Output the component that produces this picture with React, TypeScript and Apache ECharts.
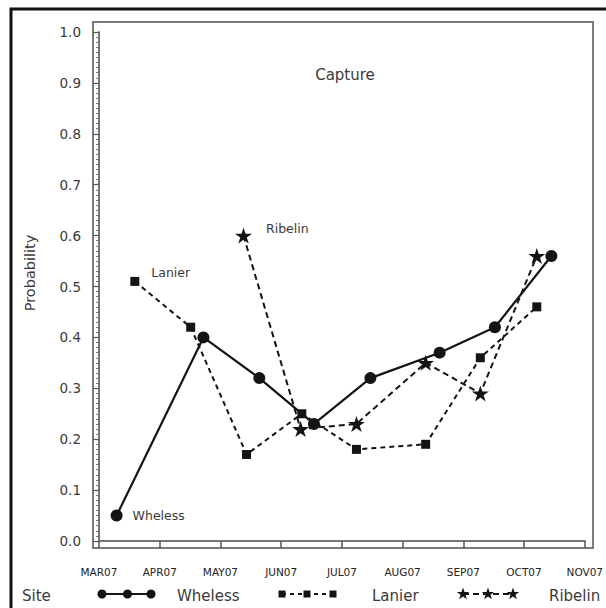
import React, { useEffect, useRef } from "react";
import * as echarts from "echarts";

const monthLabels = ["MAR07", "APR07", "MAY07", "JUN07", "JUL07", "AUG07", "SEP07", "OCT07", "NOV07"];
const yTicks = [0, 0.1, 0.2, 0.3, 0.4, 0.5, 0.6, 0.7, 0.8, 0.9, 1.0];

// x = months elapsed since March 1, 2007
const whelessX = [0.29, 1.72, 2.64, 3.54, 4.47, 5.61, 6.52, 7.45];
const whelessY = [0.05, 0.40, 0.32, 0.23, 0.32, 0.37, 0.42, 0.56];

const lanierX = [0.59, 1.51, 2.43, 3.34, 4.24, 5.38, 6.28, 7.21];
const lanierY = [0.51, 0.42, 0.17, 0.25, 0.18, 0.19, 0.36, 0.46];

const ribelinX = [2.38, 3.32, 4.24, 5.38, 6.28, 7.21];
const ribelinY = [0.60, 0.22, 0.23, 0.35, 0.29, 0.56];

const siteNames = ["Wheless", "Lanier", "Ribelin"];

const STAR = "path://M50,0 L61.2,34.5 L97.6,34.5 L68.2,55.9 L79.4,90.5 L50,69.1 L20.6,90.5 L31.8,55.9 L2.4,34.5 L38.8,34.5 Z";
const FONT = "DejaVu Sans";
const INK = "#141414";
const TXT = "#3a3a3a";

function pairs(xs: number[], ys: number[], labelFirst: any) {
  return xs.map((x, i) => (i === 0 ? { value: [x, ys[i]], label: labelFirst } : { value: [x, ys[i]] }));
}

function starPoints(cx: number, cy: number, r: number) {
  const pts: number[][] = [];
  for (let i = 0; i < 10; i++) {
    const rr = i % 2 === 0 ? r : r * 0.4;
    const a = -Math.PI / 2 + (i * Math.PI) / 5;
    pts.push([cx + rr * Math.cos(a), cy + rr * Math.sin(a)]);
  }
  return pts;
}

export default function App() {
  const ref = useRef<HTMLDivElement>(null);
  useEffect(() => {
    if (!ref.current) return;
    const chart = echarts.init(ref.current, null, { renderer: "svg" });
    const pointLabel = (name: string, distance: number, dy: number) => ({
      show: true,
      formatter: name,
      position: "right",
      distance,
      offset: [0, dy],
      fontFamily: FONT,
      fontSize: 12.5,
      color: TXT,
    });
    const legendY = 594;
    const legendGraphics: any[] = [
      { type: "text", x: 22, y: legendY + 2, style: { text: "Site", fontFamily: FONT, fontSize: 15, fill: TXT, verticalAlign: "middle" } },
      // Wheless
      { type: "line", shape: { x1: 102, y1: legendY, x2: 151, y2: legendY }, style: { stroke: INK, lineWidth: 2 } },
      ...[102, 127.5, 151].map((cx) => ({ type: "circle", shape: { cx, cy: legendY, r: 4.5 }, style: { fill: INK } })),
      { type: "text", x: 177, y: legendY + 2, style: { text: siteNames[0], fontFamily: FONT, fontSize: 15, fill: TXT, verticalAlign: "middle" } },
      // Lanier
      { type: "line", shape: { x1: 282, y1: legendY, x2: 333, y2: legendY }, style: { stroke: INK, lineWidth: 2, lineDash: [4, 4] } },
      ...[282, 307, 333].map((cx) => ({ type: "rect", shape: { x: cx - 3.5, y: legendY - 3.5, width: 7, height: 7 }, style: { fill: INK } })),
      { type: "text", x: 372, y: legendY + 2, style: { text: siteNames[1], fontFamily: FONT, fontSize: 15, fill: TXT, verticalAlign: "middle" } },
      // Ribelin
      { type: "line", shape: { x1: 463, y1: legendY, x2: 513, y2: legendY }, style: { stroke: INK, lineWidth: 2, lineDash: [6, 4] } },
      ...[463, 488, 513].map((cx) => ({ type: "polygon", shape: { points: starPoints(cx, legendY, 6.5) }, style: { fill: INK } })),
      { type: "text", x: 549, y: legendY + 2, style: { text: siteNames[2], fontFamily: FONT, fontSize: 15, fill: TXT, verticalAlign: "middle" } },
    ];

    chart.setOption({
      animation: false,
      backgroundColor: "#ffffff",
      grid: { left: 99, right: 18, top: 32, bottom: 67 },
      xAxis: {
        type: "value",
        min: 0,
        max: monthLabels.length - 1,
        interval: 1,
        offset: 7,
        axisLine: { show: true, lineStyle: { color: "#777", width: 2 } },
        axisTick: { show: true, length: 7, lineStyle: { color: "#555", width: 1.5 } },
        axisLabel: {
          margin: 18,
          fontFamily: FONT,
          fontSize: 10.5,
          color: "#222",
          formatter: (v: number) => monthLabels[Math.round(v)] ?? "",
        },
        splitLine: { show: false },
      },
      yAxis: {
        type: "value",
        min: yTicks[0],
        max: yTicks[yTicks.length - 1],
        interval: 0.1,
        offset: 6,
        axisLine: { show: true, lineStyle: { color: "#777", width: 2 } },
        axisTick: { show: true, length: 6, lineStyle: { color: "#555", width: 1.2 } },
        minorTick: { show: true, splitNumber: 10, length: 3, lineStyle: { color: "#777", width: 1 } },
        axisLabel: {
          margin: 12,
          fontFamily: FONT,
          fontSize: 13.5,
          color: TXT,
          formatter: (v: number) => v.toFixed(1),
        },
        splitLine: { show: false },
      },
      graphic: [
        { type: "rect", shape: { x: 11, y: 9, width: 640, height: 640 }, style: { fill: "none", stroke: "#111", lineWidth: 3 }, silent: true },
        { type: "rect", shape: { x: 93, y: 22, width: 500, height: 526 }, style: { fill: "none", stroke: "#7a7a7a", lineWidth: 2 }, silent: true },
        { type: "text", x: 345, y: 75, style: { text: "Capture", fontFamily: FONT, fontSize: 15, fill: TXT, align: "center", verticalAlign: "middle" } },
        { type: "text", x: 30, y: 273, rotation: Math.PI / 2, style: { text: "Probability", fontFamily: FONT, fontSize: 14.5, fill: TXT, align: "center", verticalAlign: "middle" } },
        ...legendGraphics,
      ],
      series: [
        {
          name: siteNames[1],
          type: "line",
          data: pairs(lanierX, lanierY, pointLabel(siteNames[1], 12, -9)),
          symbol: "rect",
          symbolSize: 9,
          lineStyle: { color: INK, width: 2, type: [5, 4] },
          itemStyle: { color: INK },
          z: 3,
        },
        {
          name: siteNames[2],
          type: "line",
          data: pairs(ribelinX, ribelinY, pointLabel(siteNames[2], 14, -7)),
          symbol: STAR,
          symbolSize: [17, 16],
          lineStyle: { color: INK, width: 2, type: [6, 4] },
          itemStyle: { color: INK },
          z: 4,
        },
        {
          name: siteNames[0],
          type: "line",
          data: pairs(whelessX, whelessY, pointLabel(siteNames[0], 10, 0)),
          symbol: "circle",
          symbolSize: 12,
          lineStyle: { color: INK, width: 2.2 },
          itemStyle: { color: INK },
          z: 5,
        },
      ],
    });
    return () => chart.dispose();
  }, []);
  return <div ref={ref} style={{ position: "fixed", left: 0, top: 0, width: 606, height: 608, background: "#fff" }} />;
}
